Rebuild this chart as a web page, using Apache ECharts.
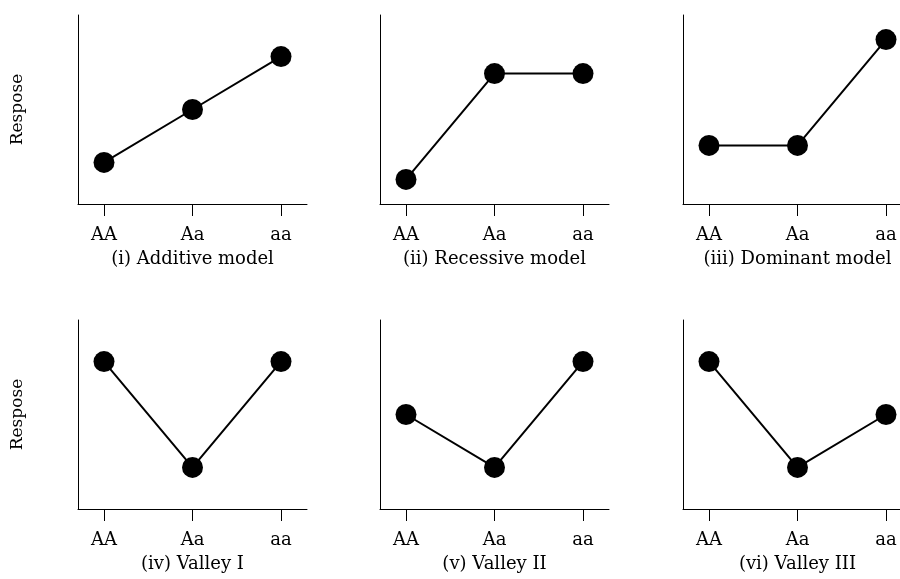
<!DOCTYPE html>
<html>
<head>
<meta charset="utf-8">
<script src="https://cdn.jsdelivr.net/npm/echarts@6/dist/echarts.min.js"></script>
<style>
html,body{margin:0;padding:0;background:#fff;}
#chart{width:900px;height:579px;}
</style>
</head>
<body>
<div id="chart"></div>
<script>
var categories = ['AA', 'Aa', 'aa'];
var additive = [0.22, 0.50, 0.78];
var recessive = [0.13, 0.69, 0.69];
var dominant = [0.31, 0.31, 0.87];
var valley1 = [0.78, 0.22, 0.78];
var valley2 = [0.50, 0.22, 0.78];
var valley3 = [0.78, 0.22, 0.50];
var panelTitles = ['(i) Additive model', '(ii) Recessive model', '(iii) Dominant model',
                   '(iv) Valley I', '(v) Valley II', '(vi) Valley III'];
var yName = 'Respose';

var panels = [additive, recessive, dominant, valley1, valley2, valley3];
var FONT = 'DejaVu Serif';
var lefts = [78, 380, 683];
var tops = [15, 320];
var W = 229, H = 189;
var PAD = 26;

var grids = [], xAxes = [], yAxes = [], series = [];
panels.forEach(function (vals, i) {
  var col = i % 3, row = Math.floor(i / 3);
  // frame grid: black axis lines and y name
  var gF = grids.length;
  grids.push({left: lefts[col], top: tops[row], width: W, height: H, containLabel: false, outerBoundsMode: 'none'});
  xAxes.push({
    type: 'value', gridIndex: gF, min: 0, max: 1,
    axisLine: {show: true, onZero: false, lineStyle: {color: '#000', width: 1}},
    axisTick: {show: false}, axisLabel: {show: false}, splitLine: {show: false}
  });
  yAxes.push({
    type: 'value', gridIndex: gF, min: 0, max: 1,
    name: col === 0 ? yName : '', nameLocation: 'middle', nameGap: 52, nameRotate: 90,
    nameTextStyle: {fontFamily: FONT, fontSize: 17, color: '#000'},
    axisLine: {show: true, onZero: false, lineStyle: {color: '#000', width: 1}},
    axisTick: {show: false}, axisLabel: {show: false}, splitLine: {show: false}
  });
  // data grid: ticks, labels, title, series
  var gD = grids.length;
  grids.push({left: lefts[col] + PAD, top: tops[row], width: W - 2 * PAD, height: H, containLabel: false, outerBoundsMode: 'none'});
  xAxes.push({
    type: 'value', gridIndex: gD, min: 0, max: categories.length - 1, interval: 1,
    name: panelTitles[i], nameLocation: 'middle', nameGap: 46,
    nameTextStyle: {fontFamily: FONT, fontSize: 18, color: '#000', verticalAlign: 'top'},
    axisLine: {show: false},
    axisTick: {show: true, length: 12, lineStyle: {color: '#000', width: 1}},
    axisLabel: {margin: 22, fontFamily: FONT, fontSize: 18, color: '#000',
      formatter: function (v) { return categories[Math.round(v)]; }},
    splitLine: {show: false}
  });
  yAxes.push({
    type: 'value', gridIndex: gD, min: 0, max: 1,
    axisLine: {show: true, onZero: false, lineStyle: {opacity: 0}},
    axisTick: {show: false}, axisLabel: {show: false}, splitLine: {show: false}
  });
  series.push({
    type: 'line', xAxisIndex: gD, yAxisIndex: gD, clip: false,
    data: vals.map(function (v, k) { return [k, v]; }),
    symbol: 'circle', symbolSize: 21, showSymbol: true,
    itemStyle: {color: '#000'}, lineStyle: {color: '#000', width: 2},
    animation: false, silent: true
  });
});

var chart = echarts.init(document.getElementById('chart'), null, {renderer: 'canvas'});
chart.setOption({
  backgroundColor: '#fff',
  animation: false,
  grid: grids, xAxis: xAxes, yAxis: yAxes, series: series
});
</script>
</body>
</html>
